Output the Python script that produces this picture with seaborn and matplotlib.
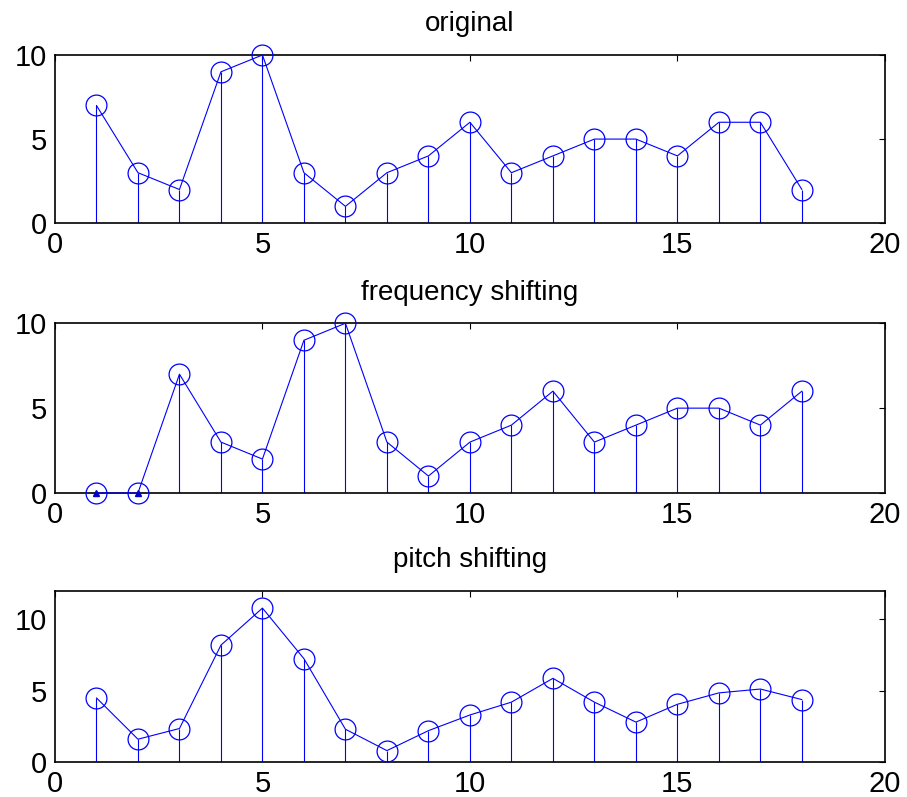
import matplotlib

matplotlib.use("Agg")
import matplotlib.pyplot as plt
import numpy as np
import pandas as pd
import seaborn as sns

# sample index shared by all three panels
n = list(range(1, 19))

original = [7, 3, 2, 9, 10, 3, 1, 3, 4, 6, 3, 4, 5, 5, 4, 6, 6, 2]
freq_shift = [0, 0, 7, 3, 2, 9, 10, 3, 1, 3, 4, 6, 3, 4, 5, 5, 4, 6]
pitch_shift = [4.5, 1.6, 2.35, 8.2, 10.8, 7.25, 2.3, 0.8, 2.2, 3.3,
               4.2, 5.87, 4.2, 2.8, 4.05, 4.85, 5.12, 4.38]

titles = ["original", "frequency shifting", "pitch shifting"]
ylims = [(0, 10), (0, 10), (0, 12)]

sns.set_style("white")
plt.rcParams["font.family"] = ["Liberation Sans", "DejaVu Sans"]
plt.rcParams["text.color"] = "black"

BLUE = "#0000ff"

fig = plt.figure(figsize=(9.07, 7.97), dpi=100)
positions = [
    [0.0606, 0.720, 0.915, 0.211],
    [0.0606, 0.3814, 0.915, 0.213],
    [0.0606, 0.0439, 0.915, 0.2146],
]

for pos, vals, title, ylim in zip(positions, [original, freq_shift, pitch_shift], titles, ylims):
    ax = fig.add_axes(pos)
    df = pd.DataFrame({"n": n, "value": vals})

    # stems
    ax.vlines(df["n"], 0, df["value"], color=BLUE, linewidth=0.8, zorder=2)
    # connecting line with open circles
    sns.lineplot(
        data=df, x="n", y="value", ax=ax, color=BLUE, linewidth=0.8,
        marker="o", markersize=15, markerfacecolor="none",
        markeredgecolor=BLUE, markeredgewidth=0.9, zorder=3, clip_on=False,
    )
    zeros = df[df["value"] == 0]
    if len(zeros):
        ax.plot(zeros["n"], zeros["value"], linestyle="none", marker="^",
                markersize=5, color="#0000c8", zorder=4, clip_on=False)

    ax.set_xlim(0, 20)
    ax.set_ylim(*ylim)
    ax.set_xticks([0, 5, 10, 15, 20])
    ax.set_yticks([0, 5, 10])
    ax.set_xlabel("")
    ax.set_ylabel("")
    ax.set_title(title, fontsize=20, pad=17, color="black")
    ax.tick_params(direction="in", length=4, width=0.8, labelsize=21,
                   top=True, right=True, colors="black", pad=6)
    for spine in ax.spines.values():
        spine.set_visible(True)
        spine.set_color("black")
        spine.set_linewidth(1.2)

fig.savefig("out.png", dpi=100)
